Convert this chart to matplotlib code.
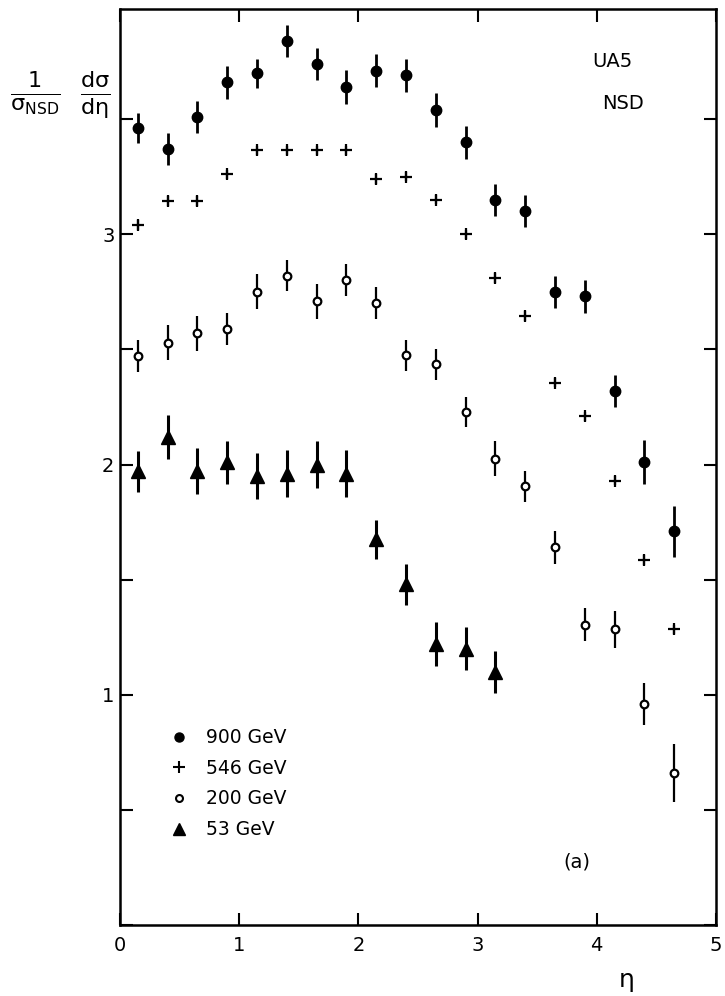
import matplotlib
matplotlib.use("Agg")
import matplotlib.pyplot as plt
from matplotlib.ticker import MultipleLocator
from matplotlib.lines import Line2D

plt.rcParams['font.family'] = ['DejaVu Sans']
plt.rcParams['mathtext.fontset'] = 'dejavusans'

# pseudorapidity bin centres
eta = [0.15, 0.40, 0.65, 0.90, 1.15, 1.40, 1.65, 1.90, 2.15, 2.40,
       2.65, 2.90, 3.15, 3.40, 3.65, 3.90, 4.15, 4.40, 4.65]

# 900 GeV
y900 = [3.46, 3.37, 3.51, 3.66, 3.70, 3.84, 3.74, 3.64, 3.71, 3.69,
        3.54, 3.40, 3.15, 3.10, 2.75, 2.73, 2.32, 2.01, 1.71]
e900 = [0.065, 0.07, 0.07, 0.072, 0.063, 0.07, 0.07, 0.075, 0.072, 0.07,
        0.072, 0.072, 0.07, 0.07, 0.068, 0.07, 0.07, 0.095, 0.11]

# 546 GeV
y546 = [3.04, 3.145, 3.145, 3.26, 3.365, 3.365, 3.365, 3.365, 3.24, 3.25,
        3.15, 3.00, 2.81, 2.645, 2.355, 2.21, 1.93, 1.585, 1.285]
e546 = [0.02] * 19

# 200 GeV
y200 = [2.47, 2.53, 2.57, 2.59, 2.75, 2.82, 2.71, 2.80, 2.70, 2.475,
        2.435, 2.23, 2.025, 1.905, 1.64, 1.305, 1.285, 0.96, 0.66]
e200 = [0.07, 0.077, 0.077, 0.07, 0.076, 0.067, 0.076, 0.07, 0.07, 0.068,
        0.067, 0.065, 0.076, 0.067, 0.07, 0.072, 0.08, 0.093, 0.125]

# 53 GeV (13 bins)
eta53 = eta[:13]
y53 = [1.97, 2.12, 1.97, 2.01, 1.95, 1.96, 2.00, 1.96, 1.675, 1.48,
       1.22, 1.20, 1.10]
e53 = [0.09, 0.096, 0.10, 0.094, 0.098, 0.103, 0.10, 0.103, 0.085, 0.09,
       0.094, 0.094, 0.092]

energies = ['900 GeV', '546 GeV', '200 GeV', '53 GeV']
x_ticks = [0, 1, 2, 3, 4, 5]
y_ticks = [1, 2, 3]

fig = plt.figure(figsize=(7.25, 9.96), dpi=100)
ax = fig.add_axes([0.1655, 0.0713, 0.822, 0.92])

ax.errorbar(eta, y900, yerr=e900, fmt='o', color='black', ms=7.5,
            elinewidth=2.0, capsize=0)
ax.errorbar(eta, y546, yerr=e546, fmt='+', color='black', ms=9, mew=1.6,
            elinewidth=1.6, capsize=0)
ax.errorbar(eta, y200, yerr=e200, fmt='o', color='black', mfc='white',
            ms=5.5, mew=1.6, elinewidth=1.6, capsize=0)
ax.errorbar(eta53, y53, yerr=e53, fmt='^', color='black', ms=9.5,
            elinewidth=2.2, capsize=0)

ax.set_xlim(0, 5)
ax.set_ylim(0, 3.98)
ax.set_xticks(x_ticks)
ax.set_xticklabels([str(v) for v in x_ticks])
ax.set_yticks(y_ticks)
ax.set_yticklabels([str(v) for v in y_ticks])
ax.yaxis.set_minor_locator(MultipleLocator(0.5))

ax.tick_params(axis='both', which='both', direction='in', top=True,
               right=True, length=9, width=1.5, labelsize=14)
ax.tick_params(axis='x', pad=8)
ax.tick_params(axis='y', pad=4)
for s in ax.spines.values():
    s.set_linewidth(1.8)

# legend with the four beam energies
handles = [
    Line2D([], [], ls='none', marker='o', color='black', ms=6.5),
    Line2D([], [], ls='none', marker='+', color='black', ms=8, mew=1.5),
    Line2D([], [], ls='none', marker='o', color='black', mfc='white', ms=5, mew=1.5),
    Line2D([], [], ls='none', marker='^', color='black', ms=8),
]
ax.legend(handles, energies, loc='upper left', bbox_to_anchor=(0.068, 0.225),
          frameon=False, fontsize=13.5, handlelength=1.0, handletextpad=0.9,
          labelspacing=0.62, borderpad=0)

ax.text(4.13, 3.75, 'UA5', fontsize=14, ha='center', va='center')
ax.text(4.22, 3.57, 'NSD', fontsize=14, ha='center', va='center')
ax.text(3.83, 0.275, '(a)', fontsize=14, ha='center', va='center')

fig.text(0.864, 0.016, 'η', fontsize=18, ha='center', va='center')
fig.text(0.083, 0.905,
         r'$\frac{1}{\mathrm{σ_{NSD}}}\;\;\frac{\mathrm{dσ}}{\mathrm{dη}}$',
         fontsize=23, ha='center', va='center')

fig.savefig('out.png', dpi=100)
